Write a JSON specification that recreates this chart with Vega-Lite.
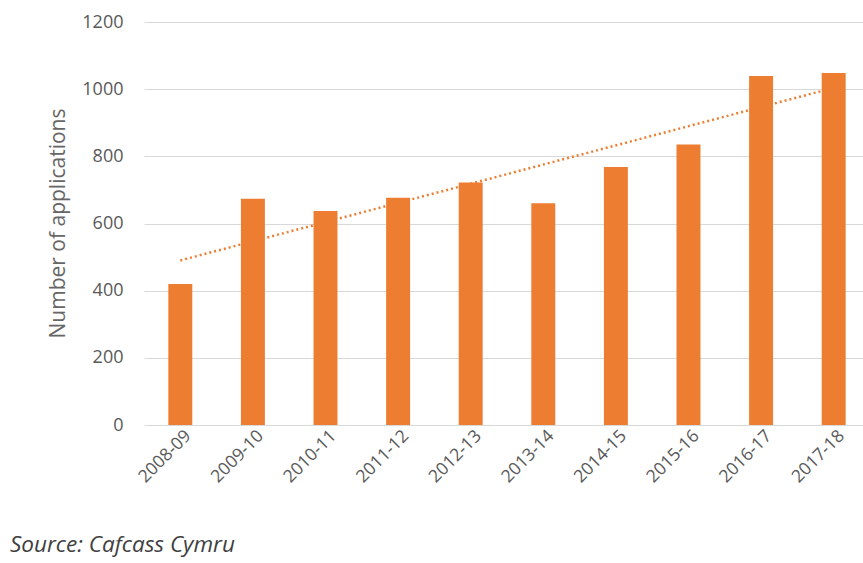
{
  "$schema": "https://vega.github.io/schema/vega-lite/v6.json",
  "width": 719,
  "height": 403,
  "autosize": "none",
  "padding": {"left": 144, "top": 22, "right": 0, "bottom": 138},
  "background": "white",
  "config": {
    "view": {"stroke": null},
    "font": "Open Sans"
  },
  "title": {
    "text": "Source: Cafcass Cymru",
    "orient": "bottom",
    "anchor": "start",
    "frame": "group",
    "dx": -134,
    "offset": 49,
    "font": "Open Sans",
    "fontSize": 22.5,
    "fontStyle": "italic",
    "fontWeight": "normal",
    "color": "#404040"
  },
  "datasets": {
    "apps": [
      {"year": "2008-09", "applications": 420},
      {"year": "2009-10", "applications": 674},
      {"year": "2010-11", "applications": 637},
      {"year": "2011-12", "applications": 677},
      {"year": "2012-13", "applications": 722},
      {"year": "2013-14", "applications": 660},
      {"year": "2014-15", "applications": 768},
      {"year": "2015-16", "applications": 835},
      {"year": "2016-17", "applications": 1039},
      {"year": "2017-18", "applications": 1048}
    ],
    "trend": [
      {"year": "2008-09", "trend": 490},
      {"year": "2017-18", "trend": 1004}
    ]
  },
  "layer": [
    {
      "data": {"name": "apps"},
      "mark": {"type": "bar", "color": "#ED7D31"},
      "encoding": {
        "x": {
          "field": "year",
          "type": "ordinal",
          "sort": null,
          "scale": {"paddingInner": 0.67, "paddingOuter": 0.287, "align": 0.584},
          "axis": {
            "title": null,
            "labelAngle": -45,
            "labelAlign": "right",
            "labelBaseline": "middle",
            "labelFontSize": 17.5,
            "labelColor": "#595959",
            "labelPadding": 8,
            "ticks": false,
            "domain": false,
            "labelOffset": 8
          }
        },
        "y": {
          "field": "applications",
          "type": "quantitative",
          "scale": {"domain": [0, 1200]},
          "axis": {
            "title": "Number of applications",
            "titleFontSize": 21,
            "titleFontWeight": "normal",
            "titleColor": "#666666",
            "titleX": -86,
            "titleY": 201,
            "titleAngle": -90,
            "titleAlign": "center",
            "titleBaseline": "middle",
            "values": [0, 200, 400, 600, 800, 1000, 1200],
            "format": "d",
            "labelFontSize": 18,
            "labelColor": "#595959",
            "labelPadding": 21,
            "ticks": false,
            "domain": false,
            "grid": true,
            "gridColor": "#d9d9d9",
            "gridWidth": 1.2
          }
        }
      }
    },
    {
      "data": {"name": "trend"},
      "mark": {"type": "line", "color": "#ED7D31", "strokeDash": [2, 3], "strokeWidth": 2.5},
      "encoding": {
        "x": {"field": "year", "type": "ordinal", "sort": null},
        "y": {"field": "trend", "type": "quantitative"}
      }
    }
  ]
}
